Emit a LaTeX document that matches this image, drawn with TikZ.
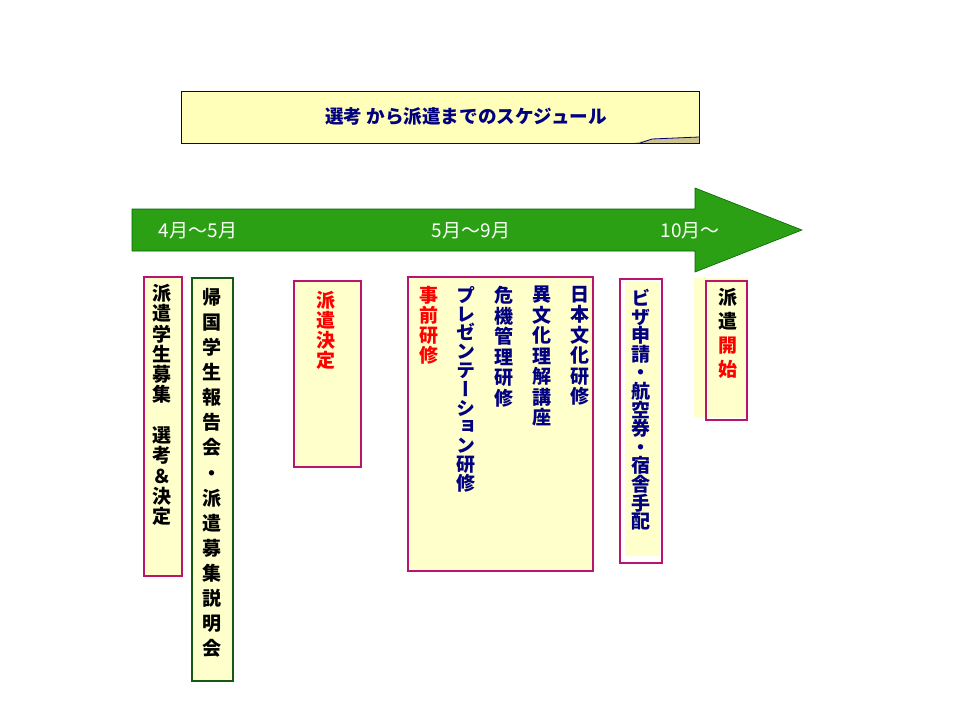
\documentclass[tikz,border=0pt]{standalone}
\usepackage{fontspec}
\setmainfont{Noto Sans CJK JP}
\newfontfamily\tatefont[RawFeature=+vert]{Noto Sans CJK JP}
\usepackage{tikz}
\usetikzlibrary{positioning}
\definecolor{boxrim}{RGB}{185,20,110}
\definecolor{leafrim}{RGB}{20,90,20}
\definecolor{paleyellow}{RGB}{255,255,204}
\definecolor{titleyellow}{RGB}{255,255,185}
\definecolor{foldtan}{RGB}{204,196,140}
\definecolor{navy}{RGB}{0,0,128}
\definecolor{arrowgreen}{RGB}{44,160,20}
\tikzstyle{paper}=[fill=paleyellow]
\tikzstyle{rim}=[draw=boxrim, line width=1.8pt]
\tikzstyle{greenrim}=[draw=leafrim, line width=1.2pt]
\tikzstyle{monthtext}=[text=white, inner sep=0pt, font=\fontsize{19}{19}\selectfont]
\tikzstyle{tatetext}=[anchor=north, inner sep=0pt, align=center, font=\tatefont\bfseries\fontsize{19}{20}\selectfont]
\newcommand{\tateBox}[4]{
	\fill[paper] #2 rectangle #3;
	\draw[#1] #2 rectangle #4;
}

\begin{document}
\begin{tikzpicture}[x=1pt,y=-1pt]
	\useasboundingbox (0,0) rectangle (960,720);
	% title
	\fill[titleyellow] (181,91) rectangle (699,143);
	\fill[foldtan] (634,143) -- (699,143) -- (699,137) -- (652,139) -- cycle;
	\draw[navy, line width=0.8pt] (181,91) rectangle (699,143);
	\draw[navy, line width=0.8pt] (640,143) -- (652,139) -- (699,137);
	\node[inner sep=0pt, text=navy, font=\bfseries\fontsize{18.6}{18.6}\selectfont] (title) at (466,116) {選考 から派遣までのスケジュール};
	% arrow
	\draw[fill=arrowgreen, draw=black!60!green, line width=0.6pt] (132,209) -- (695,209) -- (695,188) -- (802,230) -- (695,272) -- (695,251) -- (132,251) -- cycle;
	\node[monthtext] (m1) at (198,231) {4月～5月};
	\node[monthtext] (m2) at (471,231) {5月～9月};
	\node[monthtext] (m3) at (690,231) {10月～};
	% boxes
	\tateBox{rim}{(144,277)}{(182,576)}{(182,576)}
	\node[tatetext, font=\tatefont\bfseries\fontsize{19}{20.3}\selectfont] (bosyu) at (162,284) {派\\遣\\学\\生\\募\\集\\　\\選\\考\\＆\\決\\定};
	\tateBox{greenrim}{(192,278)}{(233,681)}{(233,681)}
	\node[tatetext, font=\tatefont\bfseries\fontsize{19}{25.1}\selectfont] (houkoku) at (212,288) {帰\\国\\学\\生\\報\\告\\会\\・\\派\\遣\\募\\集\\説\\明\\会};
	\tateBox{rim}{(294,281)}{(361,467)}{(361,467)}
	\node[tatetext, text=red] (kettei) at (326,291) {派\\遣\\決\\定};
	\tateBox{rim}{(408,277)}{(593,571)}{(593,571)}
	\node[tatetext, text=navy, font=\tatefont\bfseries\fontsize{19}{20.5}\selectfont] (nihon) at (580,286) {日\\本\\文\\化\\研\\修};
	\node[tatetext, text=navy, font=\tatefont\bfseries\fontsize{19}{20.5}\selectfont] (ibunka) at (542,286) {異\\文\\化\\理\\解\\講\\座};
	\node[tatetext, text=navy, font=\tatefont\bfseries\fontsize{19}{20.5}\selectfont] (kiki) at (504,286) {危\\機\\管\\理\\研\\修};
	\node[tatetext, text=navy, font=\tatefont\bfseries\fontsize{19}{18.8}\selectfont] (pres) at (466,286) {プ\\レ\\ゼ\\ン\\テ\\ー\\シ\\ョ\\ン\\研\\修};
	\node[tatetext, text=red] (jizen) at (429,286) {事\\前\\研\\修};
	\fill[paper] (625,281) rectangle (660,556);
	\draw[rim] (620,279) rectangle (662,563);
	\node[tatetext, text=navy, font=\tatefont\bfseries\fontsize{19}{18.6}\selectfont] (visa) at (641,289) {ビ\\ザ\\申\\請\\・\\航\\空\\券\\・\\宿\\舎\\手\\配};
	\fill[paper] (694,278) rectangle (747,417);
	\draw[rim] (706,281) rectangle (747,420);
	\node[tatetext, font=\tatefont\bfseries\fontsize{19}{24}\selectfont] (kaishi) at (728,288) {派\\遣\\{\color{red}開}\\{\color{red}始}};
\end{tikzpicture}
\end{document}
